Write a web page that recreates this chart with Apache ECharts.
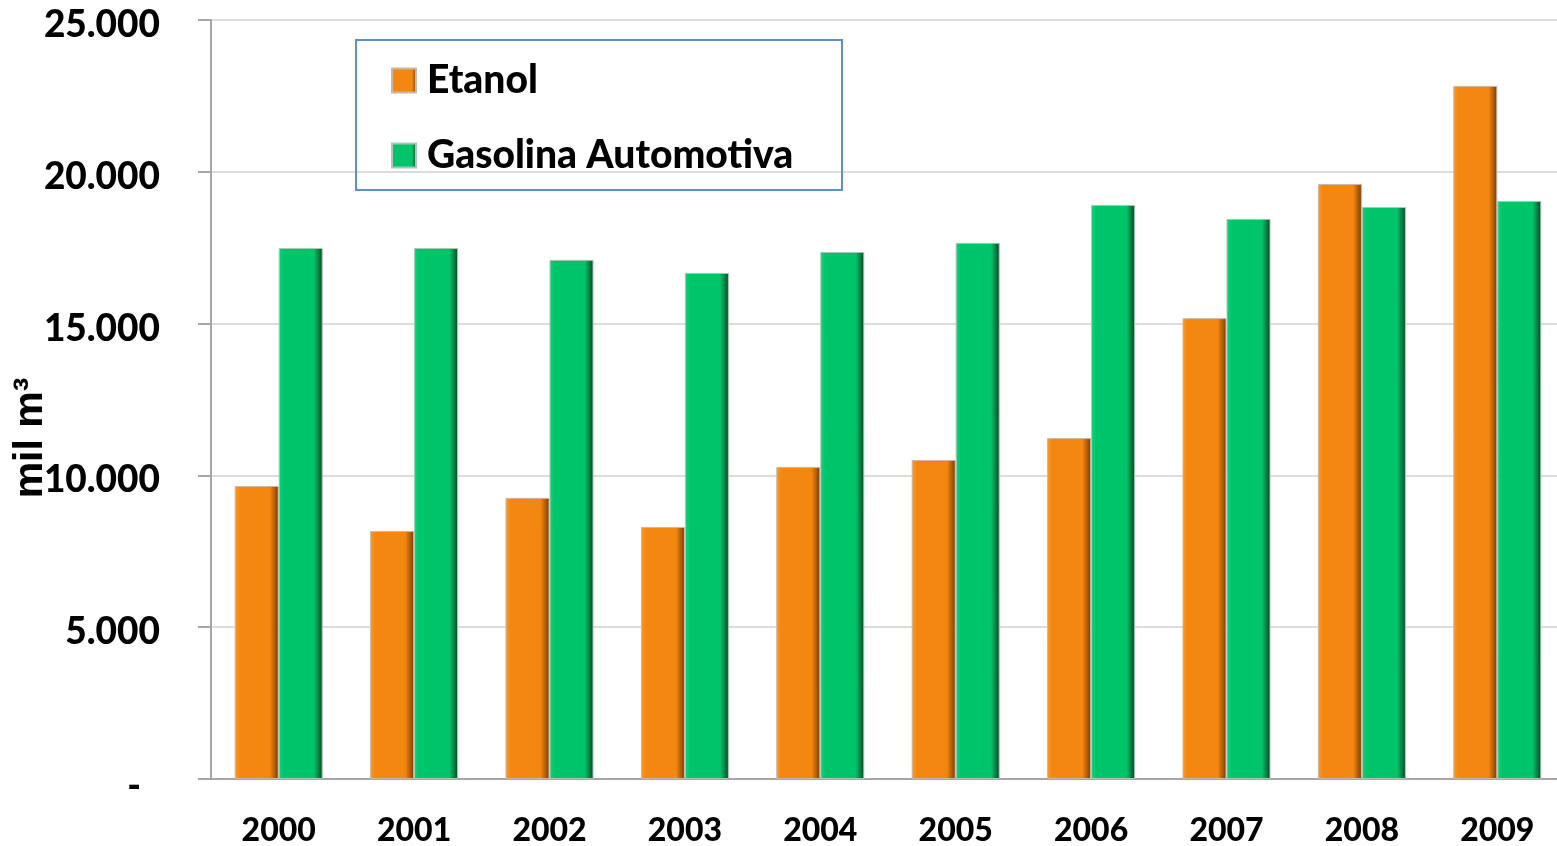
<!DOCTYPE html>
<html lang="pt-BR">
<head>
    <meta charset="utf-8">
    <title>Etanol x Gasolina</title>
    <script src="https://cdn.jsdelivr.net/npm/echarts@6/dist/echarts.min.js"></script>
    <style>
        * { margin: 0; padding: 0; }
        #chart { width: 1557px; height: 846px; background: #fff; }
    </style>
</head>
<body>
<div id="chart"></div>
<script>
    const anos = ['2000', '2001', '2002', '2003', '2004', '2005', '2006', '2007', '2008', '2009'];
    const etanol = [9650, 8170, 9260, 8300, 10280, 10510, 11230, 15180, 19600, 22830];
    const gasolina = [17490, 17490, 17100, 16670, 17360, 17660, 18910, 18450, 18840, 19040];
    const yTicks = [0, 5000, 10000, 15000, 20000, 25000];

    // rótulos no formato brasileiro, zero vira "-"
    function fmt(v) {
        if (v === 0) return '{z|-}';
        return '{n|' + String(v).replace(/\B(?=(\d{3})+(?!\d))/g, '.') + '}';
    }

    function barra(base, claro, escuro) {
        return new echarts.graphic.LinearGradient(0, 0, 1, 0, [
            { offset: 0, color: claro },
            { offset: 0.12, color: base },
            { offset: 0.8, color: base },
            { offset: 1, color: escuro }
        ]);
    }

    const fonte = 'Lato, "Open Sans", sans-serif';
    const myChart = echarts.init(document.getElementById('chart'), null, { renderer: 'canvas' });

    const rotuloY = { fontFamily: fonte, fontWeight: 900, fontSize: 37, color: '#000' };

    const option = {
        animation: false,
        grid: { left: 211, top: 20, bottom: 67, width: 1354, containLabel: false, outerBoundsMode: 'none' },
        legend: {
            orient: 'vertical',
            left: 391,
            top: 61,
            itemGap: 36,
            itemWidth: 24,
            itemHeight: 24,
            icon: 'rect',
            padding: 0,
            textStyle: { fontFamily: fonte, fontWeight: 900, fontSize: 39, color: '#000', lineHeight: 34, padding: [0, 0, 0, 6] }
        },
        graphic: [
            {
                type: 'rect',
                left: 355, top: 39,
                shape: { width: 486, height: 150 },
                style: { fill: 'rgba(255,255,255,0)', stroke: '#5b8fd0', lineWidth: 2 },
                z: 10
            },
            {
                type: 'text',
                x: 51, y: 438,
                rotation: Math.PI / 2,
                style: {
                    text: 'mil m³',
                    font: 'bold 41px "Liberation Sans", Arial, sans-serif',
                    fill: '#000',
                    textAlign: 'center',
                    textVerticalAlign: 'bottom'
                },
                z: 10
            }
        ],
        xAxis: {
            type: 'category',
            data: anos,
            axisLine: { lineStyle: { color: '#a6a6a6', width: 2 } },
            axisTick: { show: false },
            axisLabel: { margin: 36, fontFamily: fonte, fontWeight: 900, fontSize: 32, color: '#000' }
        },
        yAxis: {
            type: 'value',
            min: 0, max: 25000, interval: 5000,
            axisLine: { show: true, lineStyle: { color: '#a6a6a6', width: 2 } },
            axisTick: { show: true, length: 13, lineStyle: { color: '#a6a6a6', width: 2 } },
            splitLine: { lineStyle: { color: '#dcdcdc', width: 2 } },
            axisLabel: {
                margin: 51,
                formatter: fmt,
                rich: {
                    n: Object.assign({ padding: [10, 0, 0, 0] }, rotuloY),
                    z: Object.assign({ padding: [14, 19, 0, 0] }, rotuloY)
                }
            }
        },
        series: [
            {
                name: 'Etanol',
                type: 'bar',
                data: etanol,
                barGap: '0%',
                barCategoryGap: '35%',
                itemStyle: {
                    color: barra('#f4870f', '#f99a2a', '#7a3a00'),
                    borderColor: '#c9b8a8', borderWidth: 1
                }
            },
            {
                name: 'Gasolina Automotiva',
                type: 'bar',
                data: gasolina,
                itemStyle: {
                    color: barra('#00c46a', '#12d27c', '#00451f'),
                    borderColor: '#a8c8b8', borderWidth: 1
                }
            }
        ]
    };

    myChart.setOption(option);
</script>
</body>
</html>
